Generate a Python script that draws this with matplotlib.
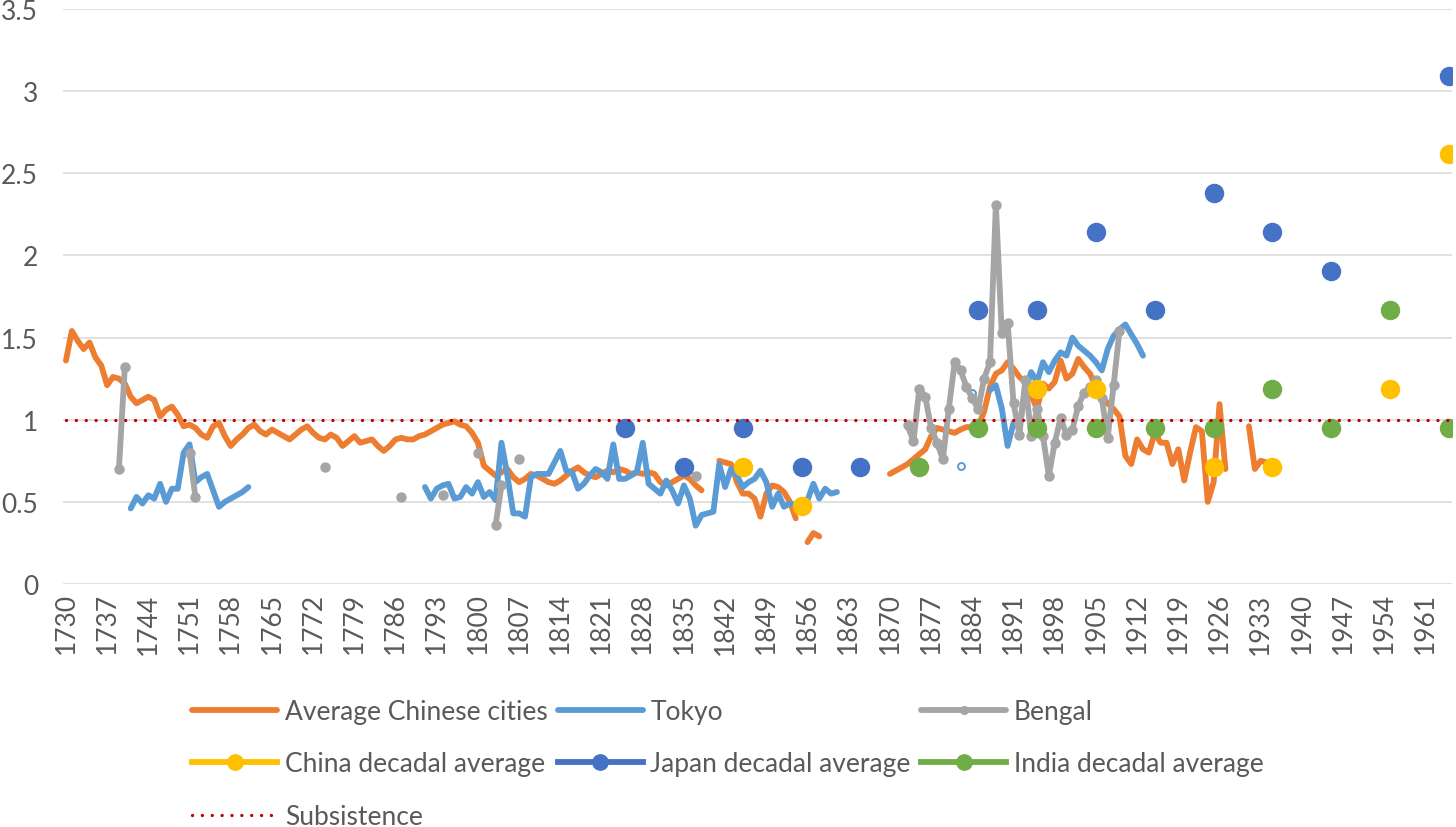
import numpy as np
import matplotlib.pyplot as plt
from matplotlib.ticker import FuncFormatter

plt.rcParams['font.family'] = ['Lato', 'DejaVu Sans']

years = np.arange(1730, 1966)

# Average Chinese cities, yearly segments (start year, values)
chinese_cities = [
    (1730, [1.36, 1.54, 1.48, 1.43, 1.47, 1.38, 1.33, 1.21, 1.26, 1.25,
            1.22, 1.14, 1.10, 1.12, 1.14, 1.12, 1.02, 1.06, 1.08, 1.03,
            0.96, 0.97, 0.95, 0.91, 0.89, 0.96, 0.98, 0.90, 0.84, 0.88,
            0.91, 0.95, 0.97, 0.93, 0.91, 0.94, 0.92, 0.90, 0.88, 0.91,
            0.94, 0.96, 0.92, 0.89, 0.88, 0.91, 0.89, 0.84, 0.87, 0.90,
            0.86, 0.87, 0.88, 0.84, 0.81, 0.84, 0.88, 0.89, 0.88, 0.88,
            0.90, 0.91, 0.93, 0.95, 0.97, 0.98, 0.99, 0.97, 0.96, 0.92,
            0.86, 0.72, 0.69, 0.66, 0.68, 0.70, 0.65, 0.62, 0.64, 0.67,
            0.66, 0.64, 0.62, 0.61, 0.63, 0.66, 0.69, 0.71, 0.68, 0.66,
            0.65, 0.67, 0.69, 0.68, 0.70, 0.69, 0.67, 0.68, 0.67, 0.68,
            0.67, 0.62, 0.60, 0.62, 0.64, 0.66, 0.64, 0.60, 0.57]),
    (1841, [0.75, 0.74, 0.73, 0.62, 0.55, 0.55, 0.52, 0.41, 0.55, 0.60,
            0.59, 0.56, 0.50, 0.40]),
    (1856, [0.255, 0.31, 0.29]),
    (1870, [0.67, 0.69, 0.71, 0.73, 0.76, 0.79, 0.82, 0.90, 0.95, 0.94,
            0.93, 0.92, 0.94, 0.955, 0.955, 0.96, 1.05, 1.20, 1.28, 1.30,
            1.35, 1.31, 1.26, 1.23, 1.15, 1.065, 1.22, 1.19, 1.23, 1.36,
            1.25, 1.28, 1.37, 1.32, 1.28, 1.20, 1.14, 1.10, 1.065, 1.02,
            0.78, 0.73, 0.88, 0.82, 0.80, 0.92, 0.86, 0.86, 0.73, 0.82,
            0.63, 0.80, 0.955, 0.93, 0.50, 0.62, 1.095, 0.70]),
    (1931, [0.96, 0.70, 0.75, 0.74]),
]

tokyo = [
    (1741, [0.46, 0.53, 0.49, 0.54, 0.52, 0.61, 0.50, 0.58, 0.58, 0.80,
            0.85, 0.62, 0.65, 0.67, 0.57, 0.47, 0.50, 0.52, 0.54, 0.56,
            0.59]),
    (1791, [0.59, 0.52, 0.58, 0.60, 0.61, 0.52, 0.53, 0.59, 0.55, 0.62,
            0.53, 0.56, 0.51, 0.86, 0.66, 0.43, 0.43, 0.41, 0.65, 0.67,
            0.67, 0.67, 0.74, 0.81, 0.69, 0.68, 0.58, 0.61, 0.66, 0.70,
            0.68, 0.64, 0.85, 0.64, 0.64, 0.66, 0.68, 0.86, 0.61, 0.58,
            0.55, 0.63, 0.57, 0.49, 0.60, 0.52, 0.355, 0.42, 0.43, 0.44,
            0.73, 0.59, 0.70, 0.66, 0.59, 0.62, 0.64, 0.69, 0.62, 0.47,
            0.55, 0.47, 0.49, 0.48, 0.47, 0.51, 0.61, 0.52, 0.58, 0.55,
            0.56]),
    (1882, [0.72]),
    (1884, [1.16]),
    (1887, [1.18, 1.21, 1.07, 0.84, 0.98, 0.96, 1.18, 1.29, 1.23, 1.35,
            1.29, 1.36, 1.41, 1.39, 1.50, 1.45, 1.42, 1.39, 1.35, 1.30,
            1.43, 1.51, 1.55, 1.58, 1.52, 1.46, 1.39]),
]

bengal = [
    (1739, [0.70, 1.32]),
    (1751, [0.80, 0.53]),
    (1774, [0.71]),
    (1787, [0.53]),
    (1794, [0.54]),
    (1800, [0.80]),
    (1803, [0.36, 0.60]),
    (1807, [0.76]),
    (1837, [0.66]),
    (1873, [0.965, 0.87, 1.19, 1.14, 0.95, 0.86, 0.76, 1.065, 1.35, 1.30,
            1.20, 1.13, 1.065, 1.25, 1.35, 2.31, 1.53, 1.59, 1.10, 0.91,
            1.24, 0.90, 1.065, 0.90, 0.66, 0.86, 1.01, 0.91, 0.94, 1.085,
            1.165, 1.20, 1.24, 1.13, 0.89, 1.21, 1.54]),
]

decade_years = [1825, 1835, 1845, 1855, 1865, 1875, 1885, 1895,
                1905, 1915, 1925, 1935, 1945, 1955, 1965]
china_decadal = [np.nan, np.nan, 0.714, 0.476, np.nan, np.nan, np.nan, 1.190,
                 1.190, np.nan, 0.714, 0.714, np.nan, 1.190, 2.619]
japan_decadal = [0.952, 0.714, 0.952, 0.714, 0.714, np.nan, 1.667, 1.667,
                 2.143, 1.667, 2.381, 2.143, 1.905, np.nan, 3.095]
india_decadal = [np.nan, np.nan, np.nan, np.nan, np.nan, 0.714, 0.952, 0.952,
                 0.952, 0.952, 0.952, 1.190, 0.952, 1.667, 0.952]

subsistence = 1.0


def to_series(segments):
    s = np.full(len(years), np.nan)
    for start, vals in segments:
        i = start - years[0]
        s[i:i + len(vals)] = vals
    return s


def decadal_series(vals):
    return to_series([(y, [v]) for y, v in zip(decade_years, vals)])


cn = to_series(chinese_cities)
tk = to_series(tokyo)
bg = to_series(bengal)

# Tokyo points with no neighbours are shown as small open circles
prev_nan = np.r_[True, np.isnan(tk[:-1])]
next_nan = np.r_[np.isnan(tk[1:]), True]
tk_iso = ~np.isnan(tk) & prev_nan & next_nan

fig = plt.figure(figsize=(14.56, 8.28), dpi=100)
ax = fig.add_axes([63 / 1456, 1 - 585 / 828, (1452 - 63) / 1456, 575 / 828])

lw = 4.2
round_line = dict(solid_capstyle='round', solid_joinstyle='round')
h_cn, = ax.plot(years, cn, color='#ED7D31', lw=lw, label='Average Chinese cities',
                zorder=3, **round_line)
h_tk, = ax.plot(years, tk, color='#5B9BD5', lw=lw, label='Tokyo', zorder=4,
                **round_line)
ax.plot(years[tk_iso], tk[tk_iso], 'o', ms=5, mfc='white', mec='#5B9BD5',
        mew=1.4, zorder=4)
h_bg, = ax.plot(years, bg, color='#A5A5A5', lw=lw, marker='o', ms=6.5,
                label='Bengal', zorder=5, **round_line)

h_ch, = ax.plot(years, decadal_series(china_decadal), color='#FFC000', lw=lw,
                marker='o', ms=13, label='China decadal average', zorder=6)
h_jp, = ax.plot(years, decadal_series(japan_decadal), color='#4472C4', lw=lw,
                marker='o', ms=13, label='Japan decadal average', zorder=6)
h_in, = ax.plot(years, decadal_series(india_decadal), color='#70AD47', lw=lw,
                marker='o', ms=13, label='India decadal average', zorder=6)

h_sub, = ax.plot(years, np.full(len(years), subsistence), color='#C00000',
                 lw=2.4, linestyle=(0, (0.01, 2.95)), dash_capstyle='round',
                 label='Subsistence', zorder=7)

ax.set_xlim(1729.5, 1965.5)
ax.set_ylim(0, 3.5)
ax.set_yticks(np.arange(0, 3.51, 0.5))
ax.yaxis.set_major_formatter(FuncFormatter(lambda v, p: f'{v:g}'))
ax.set_xticks(np.arange(1730, 1966, 7))
ax.tick_params(axis='x', rotation=90, length=0, pad=6, labelsize=19,
               labelcolor='#595959')
ax.tick_params(axis='y', length=0, pad=18, labelsize=19, labelcolor='#595959')
ax.grid(axis='y', color='#D9D9D9', lw=1.1)
ax.set_axisbelow(True)
for sp in ax.spines.values():
    sp.set_visible(False)

handles = [h_cn, h_ch, h_sub, h_tk, h_jp, h_bg, h_in]
fig.legend(handles=handles, labels=[h.get_label() for h in handles],
           loc='upper center', bbox_to_anchor=(0.5, 1 - 676 / 828), ncol=3,
           frameon=False, fontsize=19, labelcolor='#595959', handlelength=3.2,
           handletextpad=0.3, columnspacing=0.4, labelspacing=1.05,
           markerscale=0.85)

fig.savefig('out.png', dpi=100)
